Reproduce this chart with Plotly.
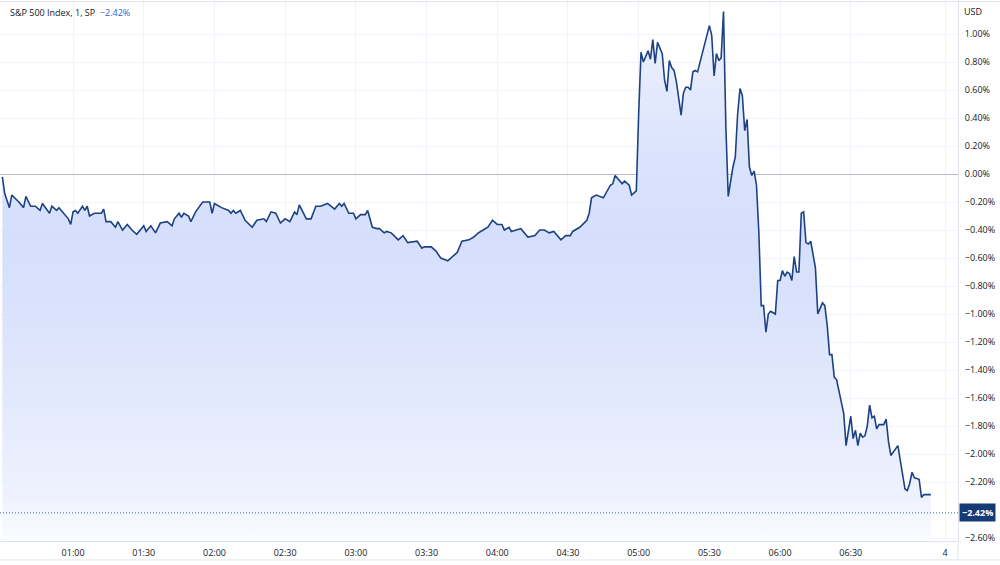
import plotly.graph_objects as go

# ---- data (minutes after the 00:30 open, % change vs previous close) ----
MINUTES = [
    0, 1, 3, 4, 7, 9, 10, 12, 14, 16,
    17, 20, 21, 23, 24, 26, 28, 29, 30, 31,
    32, 34, 35, 36, 37, 39, 42, 43, 44, 46,
    48, 49, 51, 53, 55, 57, 60, 61, 63, 65,
    67, 70, 72, 73, 75, 76, 77, 79, 80, 82,
    85, 88, 89, 90, 93, 96, 97, 98, 99, 101,
    103, 106, 108, 111, 112, 114, 116, 118, 120, 122,
    124, 125, 126, 129, 131, 133, 135, 138, 141, 143,
    144, 145, 147, 149, 150, 152, 154, 155, 157, 159,
    160, 162, 163, 165, 168, 170, 172, 176, 178, 179,
    182, 184, 186, 189, 191, 193, 195, 198, 200, 202,
    204, 206, 208, 210, 212, 213, 215, 216, 218, 220,
    223, 226, 228, 230, 232, 234, 237, 239, 241, 242,
    245, 248, 249, 250, 252, 255, 258, 259, 260, 263,
    264, 266, 267, 269, 270, 271, 272, 274, 275, 276,
    277, 278, 280, 281, 282, 283, 284, 285, 286, 288,
    289, 290, 291, 292, 293, 294, 295, 297, 300, 301,
    302, 303, 304, 305, 306, 307, 308, 310, 311, 312,
    313, 314, 315, 316, 317, 318, 319, 320, 321, 322,
    323, 324, 325, 326, 328, 329, 330, 331, 332, 333,
    334, 335, 336, 337, 338, 339, 340, 341, 342, 343,
    345, 346, 348, 349, 350, 351, 352, 353, 354, 357,
    358, 360, 361, 362, 363, 364, 365, 366, 367, 368,
    369, 370, 371, 372, 374, 375, 376, 377, 380, 383,
    384, 385, 386, 387, 389, 390, 391, 394,
]
PCT = [
    -0.02, -0.14, -0.24, -0.15, -0.20, -0.24, -0.16, -0.23, -0.23, -0.26,
    -0.21, -0.28, -0.23, -0.26, -0.24, -0.28, -0.32, -0.36, -0.27, -0.26,
    -0.28, -0.23, -0.26, -0.23, -0.30, -0.28, -0.28, -0.25, -0.34, -0.34,
    -0.38, -0.34, -0.40, -0.36, -0.40, -0.43, -0.37, -0.41, -0.37, -0.42,
    -0.35, -0.34, -0.37, -0.32, -0.28, -0.31, -0.28, -0.30, -0.34, -0.27,
    -0.20, -0.20, -0.28, -0.21, -0.24, -0.26, -0.28, -0.26, -0.28, -0.26,
    -0.33, -0.38, -0.33, -0.32, -0.34, -0.27, -0.28, -0.35, -0.32, -0.34,
    -0.27, -0.29, -0.22, -0.32, -0.32, -0.23, -0.23, -0.21, -0.25, -0.21,
    -0.23, -0.21, -0.28, -0.28, -0.32, -0.29, -0.29, -0.26, -0.38, -0.39,
    -0.39, -0.42, -0.41, -0.42, -0.47, -0.44, -0.49, -0.48, -0.53, -0.52,
    -0.52, -0.55, -0.60, -0.62, -0.59, -0.56, -0.48, -0.47, -0.45, -0.42,
    -0.40, -0.38, -0.33, -0.36, -0.36, -0.40, -0.38, -0.41, -0.40, -0.39,
    -0.45, -0.44, -0.40, -0.40, -0.42, -0.41, -0.47, -0.44, -0.44, -0.41,
    -0.38, -0.33, -0.28, -0.17, -0.15, -0.17, -0.08, -0.07, -0.01, -0.07,
    -0.05, -0.08, -0.15, -0.12, 0.43, 0.87, 0.80, 0.88, 0.82, 0.96,
    0.79, 0.94, 0.86, 0.67, 0.59, 0.81, 0.76, 0.74, 0.66, 0.42,
    0.58, 0.62, 0.62, 0.60, 0.73, 0.74, 0.73, 0.87, 1.06, 0.99,
    0.70, 0.86, 0.81, 0.83, 1.16, 0.34, -0.16, 0.05, 0.12, 0.43,
    0.61, 0.56, 0.31, 0.39, 0.05, -0.01, 0.02, -0.08, -0.42, -0.94,
    -0.94, -1.13, -1.00, -0.98, -1.00, -0.76, -0.76, -0.69, -0.73, -0.70,
    -0.71, -0.76, -0.59, -0.70, -0.70, -0.28, -0.27, -0.49, -0.50, -0.48,
    -0.67, -1.00, -0.92, -0.94, -1.08, -1.29, -1.29, -1.45, -1.47, -1.71,
    -1.94, -1.73, -1.89, -1.83, -1.94, -1.85, -1.88, -1.87, -1.80, -1.65,
    -1.74, -1.73, -1.82, -1.79, -1.79, -1.75, -1.91, -2.01, -1.94, -2.25,
    -2.26, -2.21, -2.13, -2.17, -2.18, -2.31, -2.29, -2.29,
]
LAST_PCT = -2.42

X_TICK_VALS = [30, 60, 90, 120, 150, 180, 210, 240, 270, 300, 330, 360, 400]
X_TICK_TEXT = ["01:00", "01:30", "02:00", "02:30", "03:00", "03:30", "04:00",
               "04:30", "05:00", "05:30", "06:00", "06:30", "4"]
Y_TICK_VALS = [1.0, 0.8, 0.6, 0.4, 0.2, 0.0, -0.2, -0.4, -0.6, -0.8, -1.0,
               -1.2, -1.4, -1.6, -1.8, -2.0, -2.2, -2.6]
Y_TICK_TEXT = [f"{v:.2f}%".replace("-", "\u2212") for v in Y_TICK_VALS]
LAST_TEXT = f"{LAST_PCT:.2f}%".replace("-", "\u2212")

Y_MIN, Y_MAX = -2.621, 1.243
X_MIN, X_MAX = -1.0, 405.5

FONT = "Open Sans, Noto Sans, sans-serif"
TXT = "#131722"
LINE = "#1d4282"
GRID = "#f0f3fa"
BORDER = "#e0e3eb"

fig = go.Figure()

# baseline for the area fill (bottom of the pane)
fig.add_trace(go.Scatter(
    x=MINUTES, y=[Y_MIN] * len(MINUTES), mode="lines",
    line=dict(width=0, color="rgba(0,0,0,0)"), hoverinfo="skip", showlegend=False,
))
fig.add_trace(go.Scatter(
    x=MINUTES, y=PCT, mode="lines",
    line=dict(color=LINE, width=1.6),
    fill="tonexty",
    fillgradient=dict(
        type="vertical", start=Y_MIN, stop=Y_MAX,
        colorscale=[
            [0.0, "#fbfcff"],
            [0.08, "#eff2fe"],
            [0.26, "#e3e9fd"],
            [0.45, "#d9e2fc"],
            [0.56, "#d5dffc"],
            [0.70, "#dae3fc"],
            [0.82, "#e3e9fd"],
            [1.0, "#f1f4fe"],
        ],
    ),
    hoverinfo="skip", showlegend=False,
))

fig.update_layout(
    width=1000, height=565,
    margin=dict(l=0, r=42, t=0, b=24),
    paper_bgcolor="white", plot_bgcolor="white",
    font=dict(family=FONT, size=9, color=TXT),
    showlegend=False,
    xaxis=dict(
        range=[X_MIN, X_MAX], tickvals=X_TICK_VALS, ticktext=X_TICK_TEXT,
        showgrid=True, gridcolor=GRID, gridwidth=1, zeroline=False,
        showline=True, linecolor=BORDER, linewidth=1,
        ticks="outside", ticklen=3, tickcolor="rgba(0,0,0,0)",
        tickfont=dict(size=9, color=TXT, family=FONT),
    ),
    yaxis=dict(
        side="right", range=[Y_MIN, Y_MAX],
        tickvals=Y_TICK_VALS, ticktext=Y_TICK_TEXT,
        showgrid=True, gridcolor=GRID, gridwidth=1,
        zeroline=True, zerolinecolor="#b8bac4", zerolinewidth=1,
        showline=True, linecolor=BORDER, linewidth=1,
        ticks="outside", ticklen=4, tickcolor="rgba(0,0,0,0)",
        tickfont=dict(size=9, color=TXT, family=FONT),
    ),
    shapes=[
        dict(type="line", xref="paper", yref="y", x0=0, x1=1,
             y0=LAST_PCT, y1=LAST_PCT,
             line=dict(color="#3d63c0", width=1, dash="1px,2px")),
        dict(type="line", xref="paper", yref="paper", x0=0, x1=1.044,
             y0=-0.035, y1=-0.035, line=dict(color=BORDER, width=1)),
        dict(type="line", xref="paper", yref="paper", x0=1, x1=1,
             y0=-0.035, y1=0, line=dict(color=BORDER, width=1)),
        dict(type="line", xref="paper", yref="paper", x0=0, x1=1.044,
             y0=0.997, y1=0.997, line=dict(color=BORDER, width=1)),
    ],
    annotations=[
        dict(xref="paper", yref="paper", x=0.008, y=1 - 13 / 541,
             xanchor="left", yanchor="middle", showarrow=False,
             text=f"S&P 500 Index, 1, SP  <span style='color:#2f5fd0'>{LAST_TEXT}</span>",
             font=dict(size=9, color=TXT, family=FONT)),
        dict(xref="paper", yref="paper", x=1, y=1 - 12 / 541,
             xanchor="left", yanchor="middle", xshift=4, showarrow=False,
             text="USD", font=dict(size=9, color=TXT, family=FONT)),
        dict(xref="paper", yref="y", x=1, y=LAST_PCT,
             xanchor="left", yanchor="middle", xshift=1, showarrow=False,
             text=f"<b>{LAST_TEXT}</b>", bgcolor="#163a75", borderpad=2,
             font=dict(size=9, color="white", family=FONT)),
    ],
)

fig.write_html("out.html")
